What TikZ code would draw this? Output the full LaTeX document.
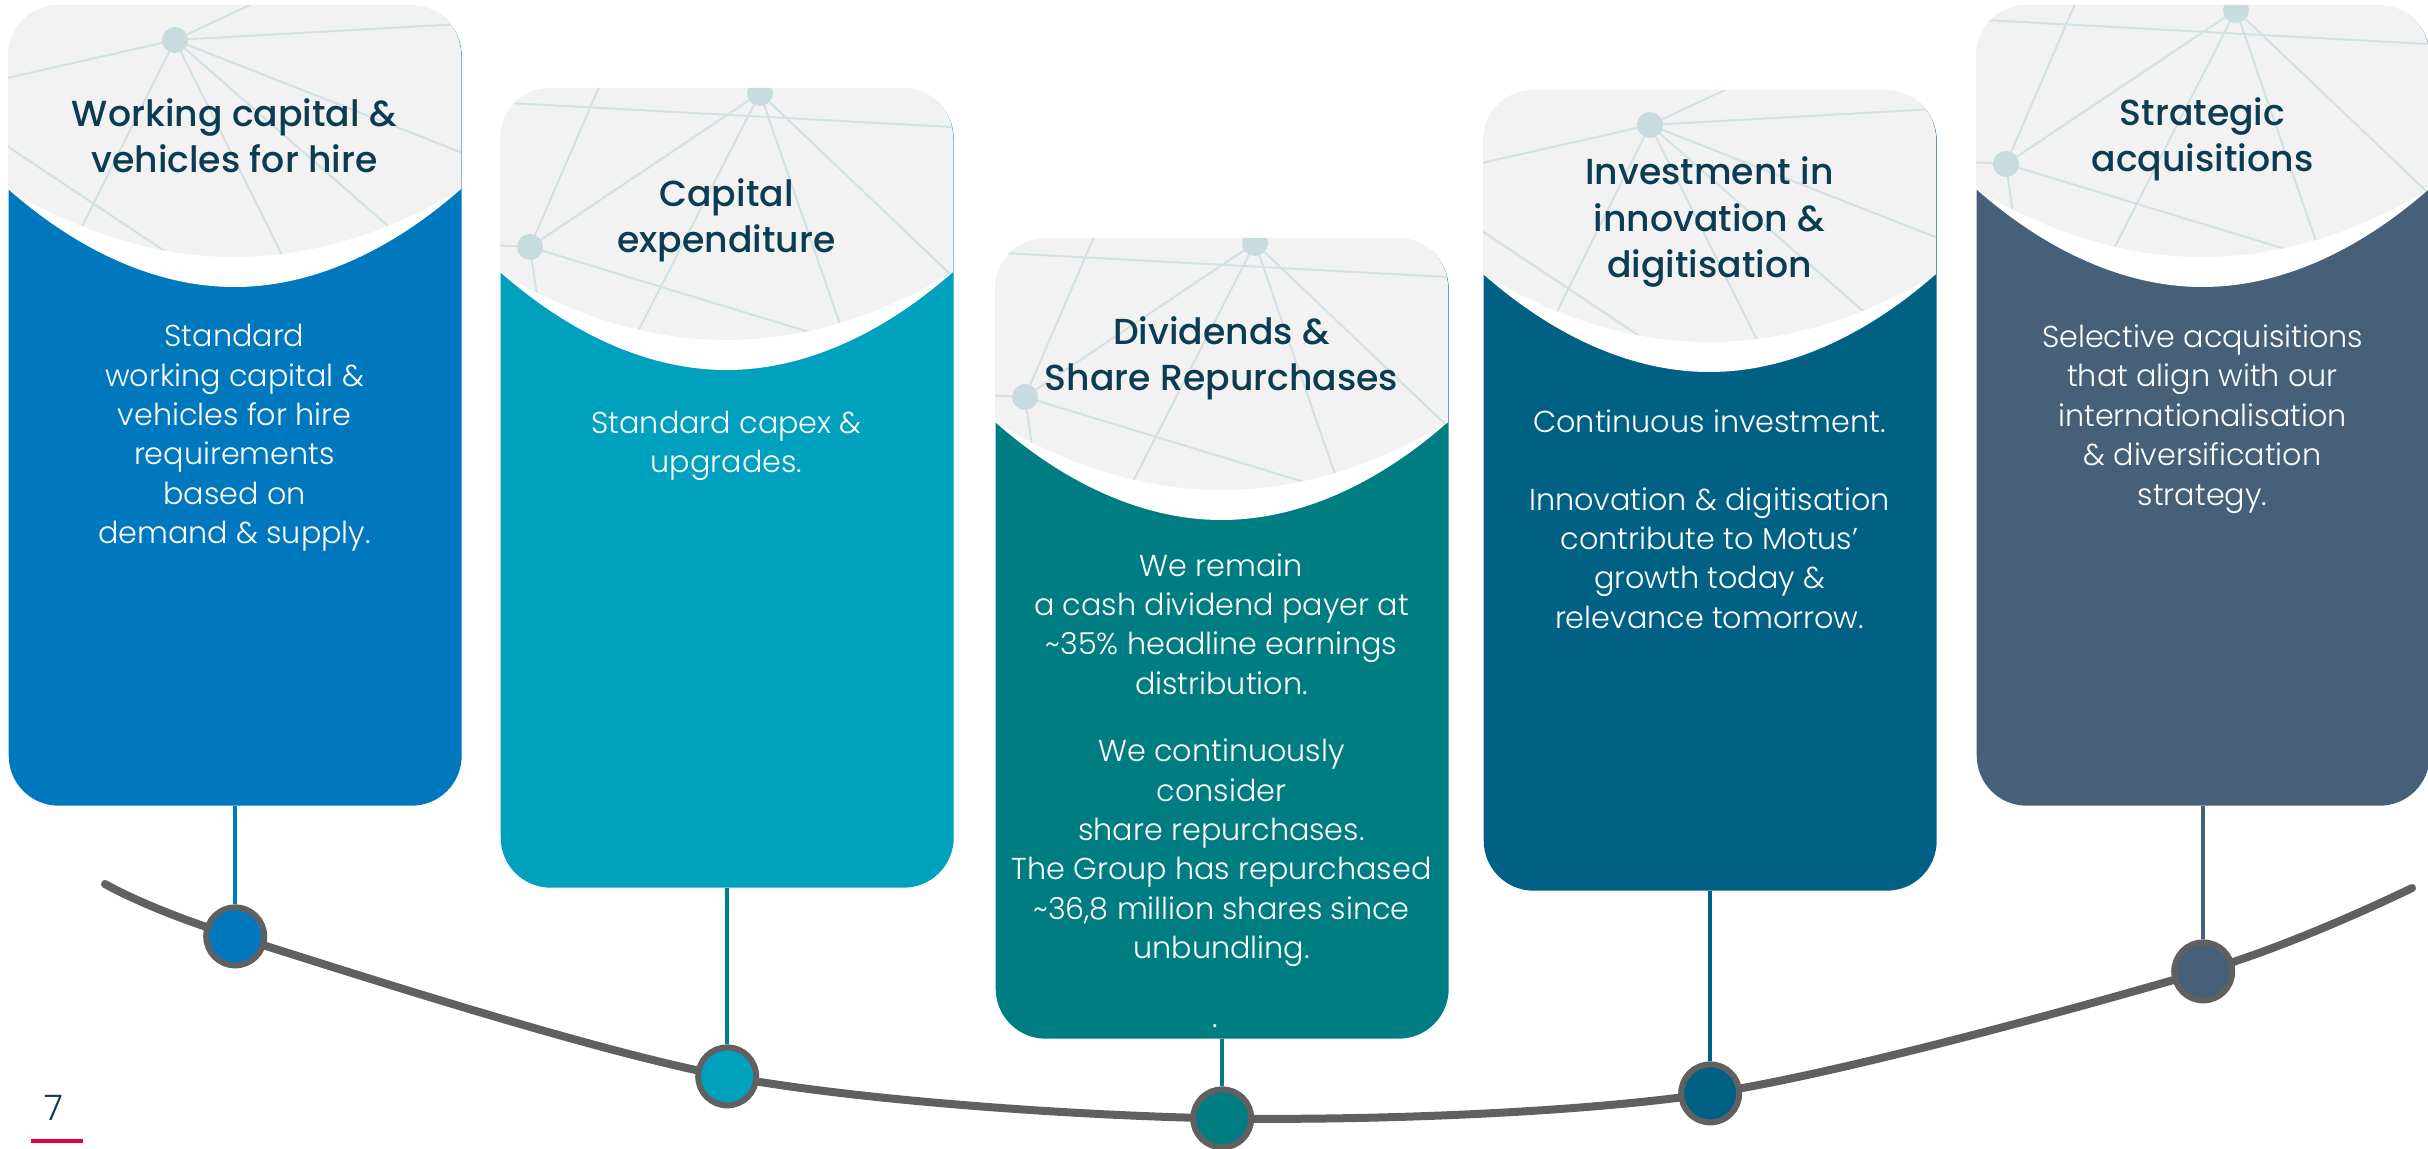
\documentclass[tikz,border=0pt]{standalone}
\usepackage{fontspec}
\setmainfont{Poppins}
\newfontfamily\headfont{Poppins Medium}
\newfontfamily\bodyfont{Poppins Light}
\usetikzlibrary{positioning}

\definecolor{cardone}{HTML}{0078BE}
\definecolor{cardtwo}{HTML}{00A1BE}
\definecolor{cardthree}{HTML}{007D83}
\definecolor{cardfour}{HTML}{006185}
\definecolor{cardfive}{HTML}{466079}
\definecolor{linktwo}{HTML}{00808A}
\definecolor{headgray}{HTML}{F2F2F2}
\definecolor{netgray}{HTML}{D2E2E4}
\definecolor{hubgray}{HTML}{C8DCDF}
\definecolor{titleblue}{HTML}{0B3C51}
\definecolor{trackgray}{HTML}{606060}
\definecolor{pagered}{HTML}{E2003C}

\tikzset{stagecard/.style={rounded corners=5mm, inner sep=0pt, minimum width=45.3mm}}
\tikzset{stagedot/.style={draw=trackgray, circle, line width=0.6mm, minimum size=5.8mm, inner sep=0pt}}
\tikzset{stagehead/.style={font=\headfont\fontsize{10.3}{13.1}\selectfont, text=titleblue, align=center}}
\tikzset{stagebody/.style={font=\bodyfont\fontsize{8.6}{11.2}\selectfont, text=white, align=center}}
\tikzset{link/.style={line width=0.4mm}}
\tikzset{track/.style={draw=trackgray, line width=0.8mm, line cap=round}}
\tikzset{stagenet/.style={draw=netgray, line width=0.2mm}}

\newcommand{\netA}{%
  \draw[stagenet] (167,35) -- (-10,75);
  \draw[stagenet] (167,35) -- (274,-15);
  \draw[stagenet] (167,35) -- (470,18);
  \draw[stagenet] (167,35) -- (470,154);
  \draw[stagenet] (167,35) -- (459,290);
  \draw[stagenet] (167,35) -- (294,290);
  \draw[stagenet] (167,35) -- (40,290);
  \draw[stagenet] (-10,135) -- (230,295);
  \fill[hubgray] (167,35) circle (1.3mm);
}
\newcommand{\netB}{%
  \draw[stagenet] (30,159) -- (260,5);
  \draw[stagenet] (105,-15) -- (30,159) -- (50,300);
  \draw[stagenet] (260,5) -- (109,300);
  \draw[stagenet] (260,5) -- (362,300);
  \draw[stagenet] (260,5) -- (470,205);
  \draw[stagenet] (-10,14) -- (470,40);
  \draw[stagenet] (-10,157) -- (30,159) -- (470,293);
  \fill[hubgray] (260,5) circle (1.3mm);
  \fill[hubgray] (30,159) circle (1.3mm);
}

\begin{document}
\begin{tikzpicture}[x=0.1mm, y=-0.1mm]
\useasboundingbox (0,0) rectangle (2428,1149);

\foreach \n/\lft/\tp/\bt/\col/\pat/\drop in {
    1/8/5/805/cardone/A/130,
    2/500/88/887/cardtwo/B/188,
    3/995/238/1038/cardthree/B/79,
    4/1483/90/890/cardfour/A/202,
    5/1976/5/805/cardfive/B/165}{
  \pgfmathsetmacro\cardh{(\bt-\tp)/10}
  \pgfmathsetmacro\rgt{\lft+453}
  \pgfmathsetmacro\ctr{\lft+226.5}
  \pgfmathsetmacro\side{\tp+184}
  \pgfmathsetmacro\wave{\tp+282}
  \pgfmathsetmacro\rim{\tp+252}
  \node[stagecard, fill=\col, minimum height=\cardh mm, anchor=north west] (card\n) at (\lft,\tp) {};
  \begin{scope}
    \clip[rounded corners=5mm] (\lft,\tp) rectangle (\rgt,\bt);
    \fill[white] (\lft,\tp) -- (\rgt,\tp) -- (\rgt,\side) parabola bend (\ctr,\wave) (\lft,\side) -- cycle;
    \fill[headgray] (\lft,\tp) -- (\rgt,\tp) -- (\rgt,\side) parabola bend (\ctr,\rim) (\lft,\side) -- cycle;
    \clip (\lft,\tp) -- (\rgt,\tp) -- (\rgt,\side) parabola bend (\ctr,\rim) (\lft,\side) -- cycle;
    \begin{scope}[shift={(\lft,\tp)}]
      \csname net\pat\endcsname
    \end{scope}
  \end{scope}
  \path (card\n.south) ++(0,\drop) coordinate (spot\n);
}

\coordinate (trackwest) at (105,884);
\coordinate (trackeast) at (2412,888);
\draw[track] plot[smooth] coordinates {(trackwest) (spot1) (spot2) (spot3) (spot4) (spot5) (trackeast)};

\foreach \n/\col/\lnk in {1/cardone/cardone, 2/cardtwo/linktwo, 3/cardthree/cardthree, 4/cardfour/cardfour, 5/cardfive/cardfive}{
  \node[stagedot, fill=\col] (dot\n) at (spot\n) {};
  \draw[link, draw=\lnk] (card\n) -- (dot\n);
}

\node[stagehead] (head1) at (234.5,136) {Working capital \&\\vehicles for hire};
\node[stagehead] (head2) at (726.5,220) {Capital\\expenditure};
\node[stagehead] (head3) at (1221.5,358) {Dividends \&\\Share Repurchases};
\node[stagehead] (head4) at (1709.5,222) {Investment in\\innovation \&\\digitisation};
\node[stagehead] (head5) at (2202.5,139) {Strategic\\acquisitions};

\node[stagebody] (body1) at (234.5,438) {Standard\\working capital \&\\vehicles for hire\\requirements\\based on\\demand \& supply.};
\node[stagebody] (body2) at (726.5,446) {Standard capex \&\\upgrades.};
\node[stagebody] (body3) at (1221.5,760) {We remain\\a cash dividend payer at\\\textasciitilde35\% headline earnings\\distribution.\\[8pt]We continuously\\consider\\share repurchases.\\The Group has repurchased\\\textasciitilde36,8 million shares since\\unbundling.};
\node[stagebody] (tail3) at (1215,1026) {.};
\node[stagebody] (body4) at (1709.5,519) {Continuous investment.\\[11pt]Innovation \& digitisation\\contribute to Motus’\\growth today \&\\relevance tomorrow.};
\node[stagebody] (body5) at (2202.5,419) {Selective acquisitions\\that align with our\\internationalisation\\\& diversification\\strategy.};

\node[font=\bodyfont\fontsize{10}{12}\selectfont, text=titleblue] (pagenum) at (54,1108) {7};
\fill[pagered] (31,1139) rectangle (83,1143);
\end{tikzpicture}
\end{document}
